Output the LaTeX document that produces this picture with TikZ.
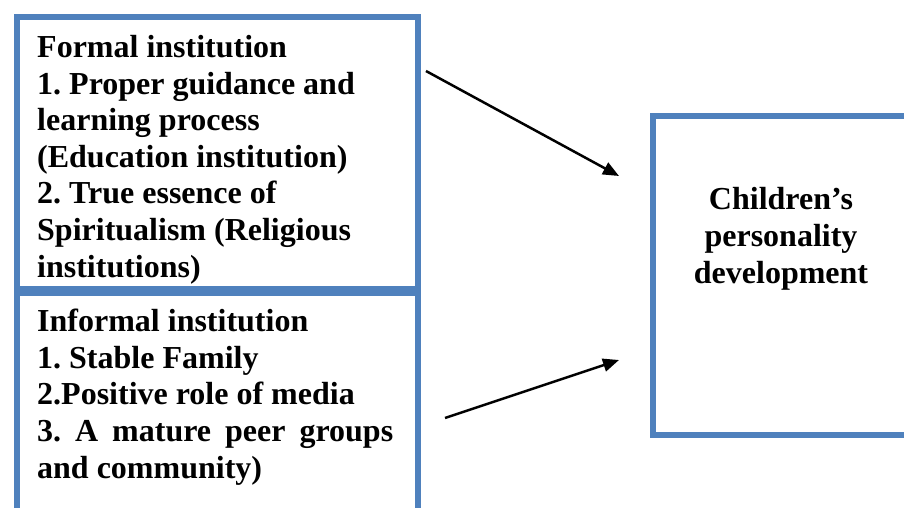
\documentclass[tikz,border=0pt]{standalone}
\usepackage{fontspec}
\setmainfont{Liberation Serif}
\usetikzlibrary{arrows.meta}
\definecolor{boxblue}{HTML}{4F81BD}
\tikzset{> = {Triangle[length=16pt,width=13pt]}}
\tikzset{box/.style={draw=boxblue, line width=6pt, anchor=north west, inner sep=0pt},
	boxtext/.style={inner sep=0pt, font=\bfseries\frenchspacing\fontsize{32}{36.6}\selectfont}}

\begin{document}
\begin{tikzpicture}[x=1pt,y=-1pt]
		\useasboundingbox (0,0) rectangle (904,508);
		\clip (0,0) rectangle (904,508);
		% boxes
		\node[box, minimum width=401pt, minimum height=272pt] (formal) at (14,14) {};
		\node[box, minimum width=401pt, minimum height=280pt] (informal) at (14,290) {};
		\node[box, minimum width=320pt, minimum height=319pt] (child) at (650,113) {};
		% texts (base = last line)
		\node[boxtext, anchor=base west, align=left] (formaltext) at (37,277) {Formal institution\\1. Proper guidance and\\learning process\\(Education institution)\\2. True essence of\\Spiritualism (Religious\\institutions)};
		\node[boxtext, anchor=base west, align=left] (informaltext) at (37,478) {Informal institution\\1. Stable Family\\2.Positive role of media\\\makebox[356pt][s]{3. A mature peer groups}\\and community)};
		\node[boxtext, anchor=base, align=center] (childtext) at (781,283) {Children’s\\personality\\development};
		% arrows
		\coordinate (formalout) at (426,71);
		\coordinate (formalin) at (619,176);
		\coordinate (informalout) at (445,418);
		\coordinate (informalin) at (619,360);
		\draw[->, line width=2.5pt] (formalout)--(formalin);
		\draw[->, line width=2.5pt] (informalout)--(informalin);
		\end{tikzpicture}
\end{document}
